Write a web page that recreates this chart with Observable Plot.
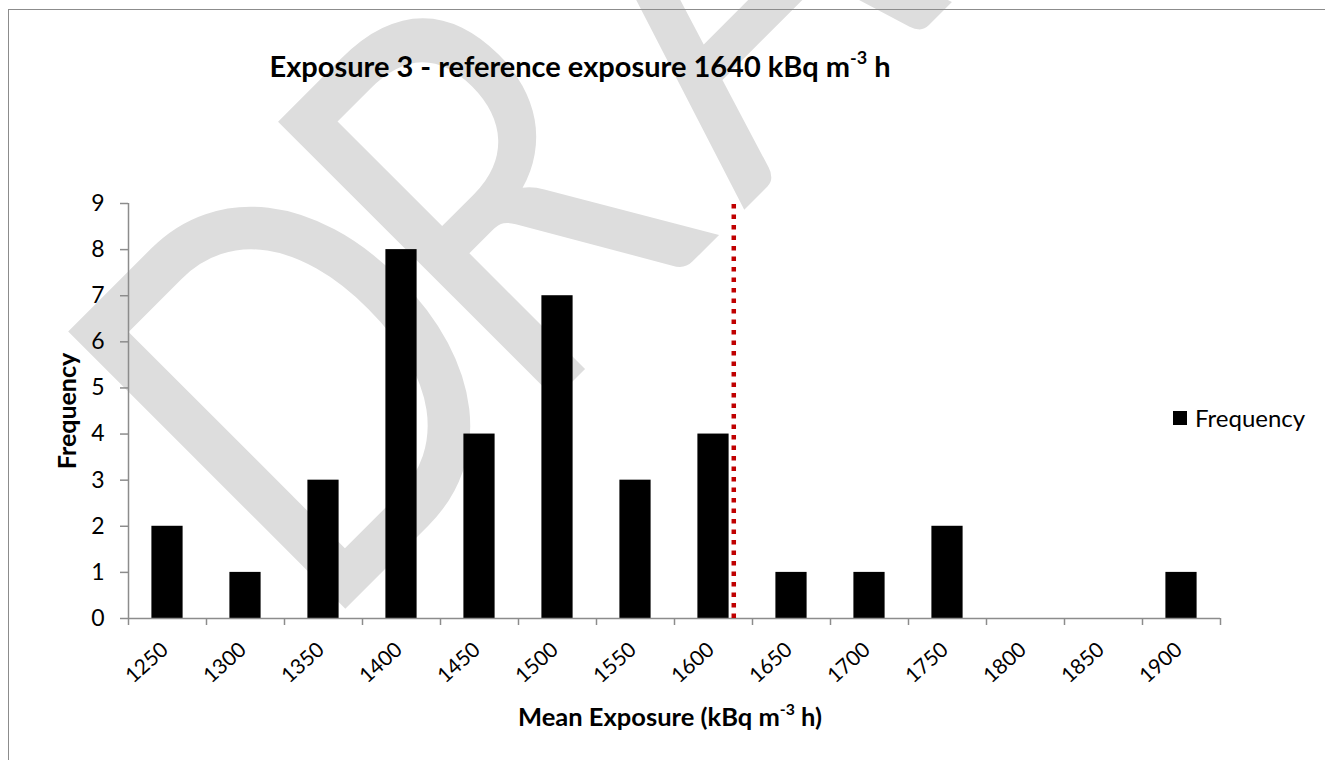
<!DOCTYPE html>
<html>
<head>
<meta charset="utf-8">
<script src="https://cdn.jsdelivr.net/npm/d3@7"></script>
<script src="https://cdn.jsdelivr.net/npm/@observablehq/plot@0.6"></script>
<style>
  html, body { margin: 0; padding: 0; background: white; overflow: hidden; }
  #wrap { position: relative; width: 1325px; height: 760px; overflow: hidden; font-family: Lato, "Open Sans", sans-serif; }
  #border { position: absolute; left: 8px; top: 9px; width: 1400px; height: 800px; border: 1.5px solid #8c8c8c; box-sizing: border-box; }
  #watermark { position: absolute; left: 0; top: 0; z-index: 0; }
  #chart { position: absolute; left: 0; top: 0; z-index: 1; }
  .ttl { position: absolute; white-space: nowrap; font-weight: bold; color: black; z-index: 2; transform: translateX(-50%); line-height: 1.2; }
  .sup { font-size: 62%; position: relative; top: -0.7em; }
  #legend { position: absolute; left: 1173px; top: 404px; z-index: 2; display: flex; align-items: center; font-size: 24px; line-height: 1.2; color: black; }
  #legend .sw { width: 14px; height: 14px; background: black; margin-right: 8px; }
</style>
</head>
<body>
<div id="wrap">
  <svg id="watermark" width="1325" height="760">
    <text transform="translate(317,637) rotate(-45) scale(0.8,1)" dx="0 -45 40 0 0" font-size="547" fill="#dddddd" font-family="Lato, sans-serif">DRAFT</text>
  </svg>
  <div id="border"></div>
  <div id="chart"></div>
  <div class="ttl" id="title" style="left:580px; top:49px; font-size:29px;">Exposure 3 - reference exposure 1640 kBq m<span class="sup">-3</span> h</div>
  <div class="ttl" id="xtitle" style="left:670px; top:701px; font-size:25.5px;">Mean Exposure (kBq m<span class="sup">-3</span> h)</div>
  <div id="legend"><div class="sw"></div><span>Frequency</span></div>
</div>
<script>
// Data
const bins = [1250, 1300, 1350, 1400, 1450, 1500, 1550, 1600, 1650, 1700, 1750, 1800, 1850, 1900];
const counts = [2, 1, 3, 8, 4, 7, 3, 4, 1, 1, 2, 0, 0, 1];
const yTicks = [0, 1, 2, 3, 4, 5, 6, 7, 8, 9];
const binWidth = 50;
const referenceLineValue = 1613; // where the dotted line is drawn on the axis
const yMax = 9;

const data = bins.map((b, i) => ({bin: b, count: counts[i]}));
const edges = bins.map(b => b - binWidth / 2).concat([bins[bins.length - 1] + binWidth / 2]);
const halfBar = binWidth * 0.2;

const axisGray = "#8c8c8c";
const font = "Lato, 'Open Sans', sans-serif";

const chart = Plot.plot({
  width: 1325,
  height: 760,
  marginLeft: 128,
  marginRight: 105,
  marginTop: 203,
  marginBottom: 142,
  style: {background: "transparent", fontFamily: font, color: "black"},
  x: {domain: [edges[0], edges[edges.length - 1]]},
  y: {domain: [0, yMax]},
  marks: [
    Plot.rectY(data.filter(d => d.count > 0), {x1: d => d.bin - halfBar, x2: d => d.bin + halfBar, y: "count", fill: "black"}),
    Plot.ruleY([0], {stroke: axisGray, strokeWidth: 1.5}),
    Plot.ruleX([edges[0]], {stroke: axisGray, strokeWidth: 1.5}),
    Plot.axisY({ticks: yTicks, tickSize: 8, tickPadding: 16, stroke: axisGray, fill: "black", fontSize: 23, label: null, strokeWidth: 1.5}),
    Plot.axisX({ticks: edges, tickSize: 7, tickFormat: () => "", stroke: axisGray, label: null, strokeWidth: 1.5}),
    Plot.text(bins, {x: d => d, text: d => String(d), frameAnchor: "bottom", dy: 33, dx: 2, rotate: -42, textAnchor: "end", fontSize: 21, fill: "black"}),
    Plot.text(["Frequency"], {frameAnchor: "left", textAnchor: "middle", dx: -61, rotate: -90, fontSize: 25, fontWeight: "bold", fill: "black"}),
    Plot.ruleX([referenceLineValue], {y1: 0, y2: yMax + 0.11, stroke: "#c00000", strokeWidth: 4.5, strokeDasharray: "4.5 6"})
  ]
});
document.getElementById("chart").appendChild(chart);
</script>
</body>
</html>
